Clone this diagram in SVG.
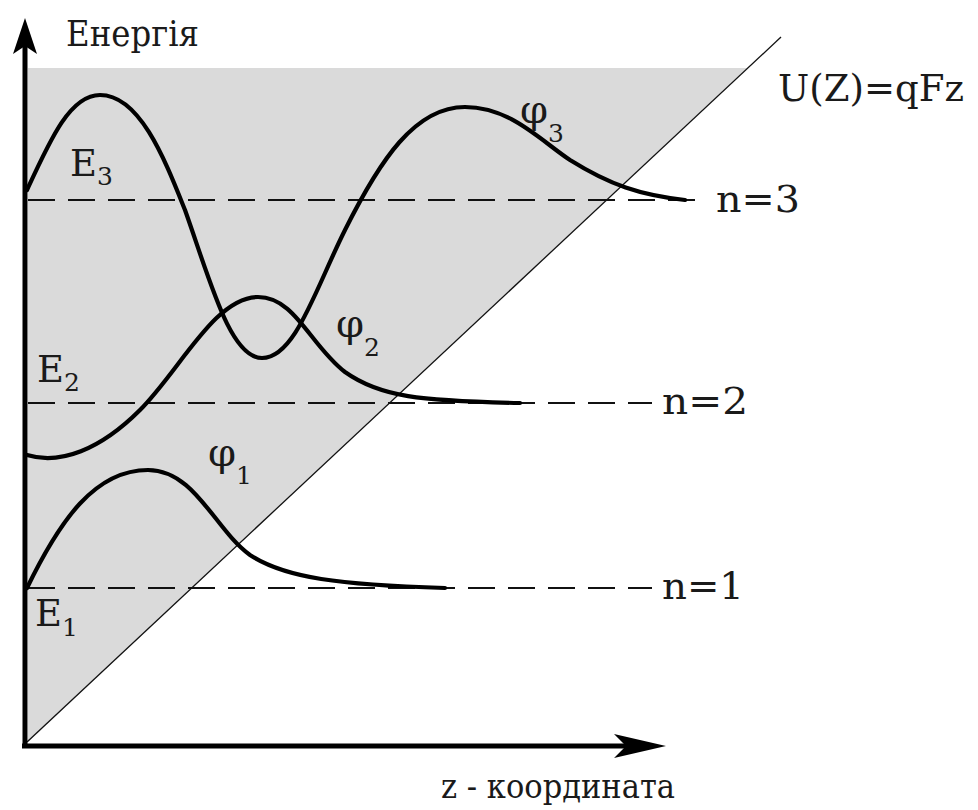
<svg xmlns="http://www.w3.org/2000/svg" width="978" height="810" viewBox="0 0 978 810">
<style>
.curve{fill:none;stroke:#000;stroke-width:4.2;stroke-linecap:round;stroke-linejoin:round}
.dash{fill:none;stroke:#111;stroke-width:1.8;stroke-dasharray:27 13}
.axis{stroke:#000;stroke-width:5;fill:none}
.lbl{font-size:37px}
.sub{font-size:25px}
</style>
<rect width="978" height="810" fill="#fff"/>
<g id="background">
<polygon points="28,68 747,68 28,742" fill="#dadada"/>
<line x1="27" y1="742" x2="781" y2="37" stroke="#111" stroke-width="1.3"/>
</g>
<g id="levels">
<line class="dash" x1="28" y1="200" x2="707" y2="200"/>
<line class="dash" x1="28" y1="403" x2="652" y2="403"/>
<line class="dash" x1="28" y1="588" x2="652" y2="588"/>
</g>
<g id="wavefunctions">
<path class="curve" d="M27,588 C60,520 95,470 148,470 C195,470 215,530 250,555 C285,578 340,585 445,588"/>
<path class="curve" d="M27,455 C60,465 100,450 140,410 C180,370 215,297 258,297 C295,297 310,345 345,372 C380,397 420,401 520,403"/>
<path class="curve" d="M27,190 C50,140 70,95 100,95 C140,95 165,160 185,210 C210,280 230,358 262,358 C295,358 315,290 345,230 C380,160 415,107 465,107 C510,107 540,140 570,160 C610,185 640,195 685,200"/>
</g>
<g id="axes">
<line class="axis" x1="25" y1="748" x2="25" y2="40"/>
<polygon points="25,18 37,54 25,46 13,54" fill="#000"/>
<line class="axis" x1="22" y1="746" x2="640" y2="746"/>
<polygon points="666,746 614,734 626,746 614,758" fill="#000"/>
</g>
<g id="labels" font-family="DejaVu Serif, serif" fill="#1a1a1a">
<text x="66" y="46" font-size="35" textLength="133" lengthAdjust="spacingAndGlyphs">Енергія</text>
<text x="778" y="101" font-size="37" textLength="186" lengthAdjust="spacingAndGlyphs">U(Z)=qFz</text>
<text class="lbl" x="716" y="212" textLength="84" lengthAdjust="spacingAndGlyphs">n=3</text>
<text class="lbl" x="662" y="414" textLength="86" lengthAdjust="spacingAndGlyphs">n=2</text>
<text class="lbl" x="662" y="599" textLength="82" lengthAdjust="spacingAndGlyphs">n=1</text>
<text class="lbl" x="70" y="176">E<tspan class="sub" dy="9">3</tspan></text>
<text class="lbl" x="37" y="382">E<tspan class="sub" dy="9">2</tspan></text>
<text class="lbl" x="35" y="626">E<tspan class="sub" dy="10">1</tspan></text>
<text x="208" y="466" font-size="40">φ<tspan class="sub" dy="18">1</tspan></text>
<text x="336" y="337" font-size="40">φ<tspan class="sub" dy="19">2</tspan></text>
<text x="520" y="123" font-size="40">φ<tspan class="sub" dy="19">3</tspan></text>
<text x="441" y="798" font-size="33" textLength="234" lengthAdjust="spacingAndGlyphs">z - координата</text>
</g>
</svg>
